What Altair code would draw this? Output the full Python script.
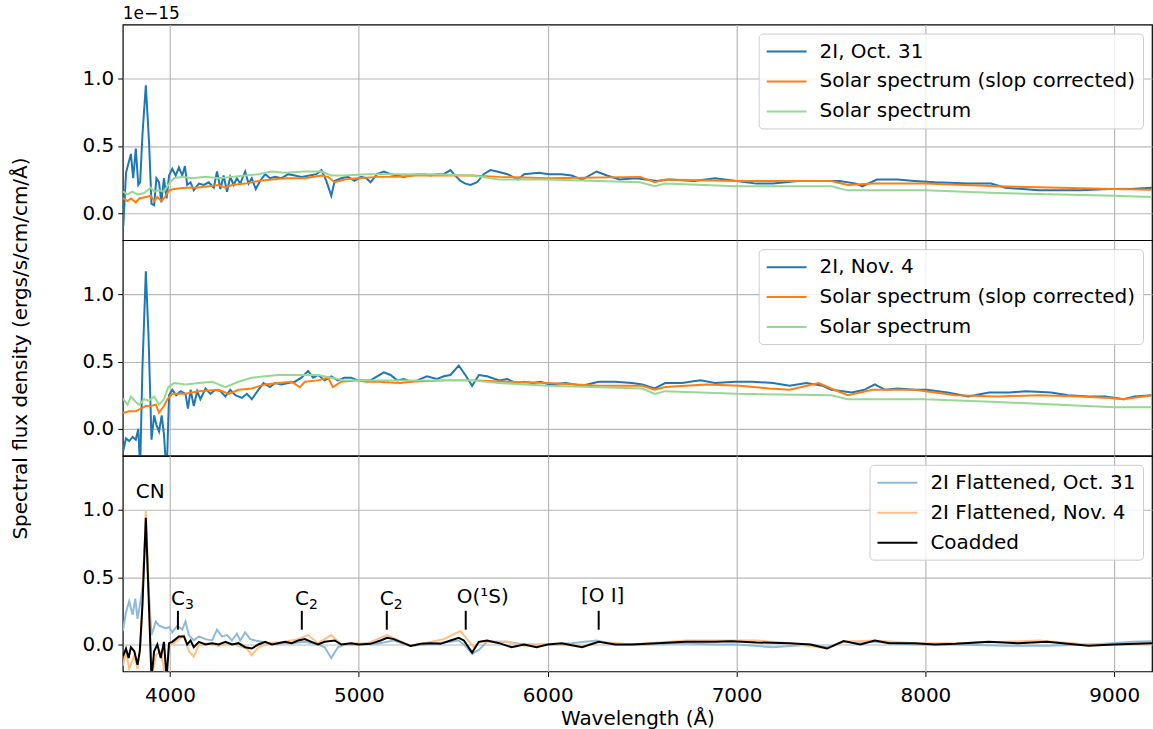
import altair as alt
import pandas as pd

X_DOMAIN = [3750, 9200]
Y_DOMAIN = [-0.2, 1.4]
X_TICKS = [4000, 5000, 6000, 7000, 8000, 9000]
Y_TICKS = [0.0, 0.5, 1.0]

P1_NAMES = ["2I, Oct. 31", "Solar spectrum (slop corrected)", "Solar spectrum"]
P2_NAMES = ["2I, Nov. 4", "Solar spectrum (slop corrected)", "Solar spectrum"]
P3_NAMES = ["2I Flattened, Oct. 31", "2I Flattened, Nov. 4", "Coadded"]
P12_COLORS = ["#1f77b4", "#ff7f0e", "#98d894"]
P3_COLORS = ["#8fbbd9", "#ffbf86", "#000000"]

# ---- Panel 1: Oct. 31 (units of 1e-15) ----
P1_OBS = [(3750, -0.11), (3753, -0.09), (3767, 0.30), (3793, 0.44), (3805, 0.26), (3819, 0.48), (3832, 0.21),
          (3842, 0.23), (3854, 0.58), (3872, 0.95), (3889, 0.53), (3902, 0.07), (3916, 0.06), (3928, 0.26),
          (3942, 0.23), (3954, 0.08), (3968, 0.26), (3982, 0.11), (3995, 0.28), (4012, 0.33), (4030, 0.28),
          (4047, 0.34), (4065, 0.28), (4079, 0.35), (4091, 0.21), (4109, 0.23), (4126, 0.17), (4153, 0.22),
          (4179, 0.21), (4205, 0.23), (4232, 0.19), (4249, 0.31), (4267, 0.18), (4284, 0.28), (4302, 0.16),
          (4319, 0.27), (4337, 0.21), (4354, 0.26), (4372, 0.22), (4398, 0.31), (4416, 0.22), (4433, 0.26),
          (4454, 0.18), (4477, 0.24), (4504, 0.29), (4530, 0.26), (4556, 0.27), (4591, 0.26), (4626, 0.29),
          (4661, 0.28), (4696, 0.27), (4740, 0.28), (4775, 0.29), (4802, 0.32), (4828, 0.24), (4854, 0.13),
          (4872, 0.24), (4907, 0.26), (4942, 0.27), (4977, 0.24), (5012, 0.27), (5040, 0.26), (5062, 0.23),
          (5097, 0.29), (5132, 0.31), (5168, 0.29), (5203, 0.28), (5238, 0.27), (5273, 0.28), (5309, 0.29),
          (5344, 0.29), (5379, 0.28), (5414, 0.29), (5450, 0.29), (5485, 0.32), (5503, 0.29), (5538, 0.24),
          (5564, 0.22), (5591, 0.21), (5626, 0.23), (5661, 0.29), (5697, 0.32), (5732, 0.31), (5787, 0.29),
          (5842, 0.25), (5875, 0.29), (5952, 0.30), (6007, 0.29), (6073, 0.29), (6127, 0.28), (6182, 0.25),
          (6259, 0.31), (6314, 0.28), (6380, 0.25), (6468, 0.26), (6578, 0.24), (6644, 0.25), (6776, 0.24),
          (6886, 0.26), (7000, 0.24), (7106, 0.22), (7193, 0.22), (7325, 0.24), (7413, 0.24), (7545, 0.24),
          (7633, 0.22), (7666, 0.20), (7743, 0.25), (7853, 0.25), (7941, 0.24), (8051, 0.23), (8227, 0.22),
          (8347, 0.22), (8424, 0.19), (8600, 0.17), (8820, 0.17), (8974, 0.18), (9084, 0.18), (9200, 0.19)]
P1_SOLCORR = [(3750, 0.11), (3753, 0.11), (3775, 0.09), (3793, 0.11), (3819, 0.08), (3837, 0.11), (3872, 0.12),
              (3898, 0.13), (3916, 0.09), (3933, 0.12), (3956, 0.09), (3977, 0.13), (3995, 0.17), (4021, 0.18),
              (4082, 0.19), (4135, 0.19), (4205, 0.20), (4258, 0.21), (4293, 0.19), (4328, 0.21), (4398, 0.22),
              (4468, 0.24), (4539, 0.25), (4609, 0.26), (4714, 0.26), (4802, 0.28), (4837, 0.27), (4872, 0.23),
              (4924, 0.25), (4995, 0.26), (5100, 0.27), (5200, 0.27), (5300, 0.28), (5400, 0.28), (5500, 0.28),
              (5600, 0.28), (5743, 0.27), (6000, 0.26), (6490, 0.27), (6567, 0.23), (6622, 0.25), (7000, 0.24),
              (7501, 0.24), (7589, 0.21), (7721, 0.22), (8000, 0.22), (8380, 0.20), (9000, 0.18), (9200, 0.175)]
P1_SOL = [(3750, 0.16), (3753, 0.16), (3775, 0.14), (3800, 0.16), (3828, 0.14), (3863, 0.15), (3898, 0.19),
          (3916, 0.16), (3942, 0.17), (3968, 0.16), (3995, 0.22), (4021, 0.26), (4065, 0.27), (4117, 0.26),
          (4188, 0.27), (4258, 0.26), (4328, 0.27), (4398, 0.28), (4468, 0.29), (4539, 0.31), (4609, 0.30),
          (4714, 0.31), (4802, 0.31), (4854, 0.28), (4924, 0.28), (5038, 0.29), (5200, 0.29), (5400, 0.29),
          (5600, 0.28), (5743, 0.25), (6000, 0.25), (6490, 0.23), (6567, 0.20), (6622, 0.22), (7000, 0.20),
          (7501, 0.20), (7589, 0.17), (8000, 0.17), (8380, 0.15), (9000, 0.13), (9200, 0.12)]

# ---- Panel 2: Nov. 4 ----
P2_OBS = [(3750, -0.16), (3753, -0.16), (3767, -0.07), (3784, -0.09), (3802, -0.06), (3819, -0.08), (3832, 0.0),
          (3842, -0.30), (3854, 0.45), (3872, 1.17), (3886, 0.70), (3902, -0.08), (3916, 0.10), (3928, 0.03),
          (3942, -0.02), (3956, 0.10), (3968, -0.04), (3982, -0.35), (3995, 0.25), (4012, 0.29), (4033, 0.25),
          (4056, 0.28), (4082, 0.26), (4095, 0.15), (4109, 0.29), (4126, 0.17), (4144, 0.28), (4161, 0.22),
          (4188, 0.30), (4214, 0.26), (4240, 0.29), (4267, 0.28), (4293, 0.24), (4319, 0.29), (4346, 0.25),
          (4381, 0.23), (4407, 0.26), (4433, 0.22), (4468, 0.29), (4495, 0.34), (4530, 0.31), (4556, 0.34),
          (4591, 0.33), (4626, 0.34), (4661, 0.35), (4696, 0.38), (4731, 0.43), (4758, 0.38), (4784, 0.40),
          (4819, 0.36), (4854, 0.39), (4889, 0.36), (4924, 0.38), (4959, 0.38), (4995, 0.36), (5038, 0.36),
          (5062, 0.36), (5097, 0.39), (5132, 0.42), (5168, 0.40), (5203, 0.36), (5238, 0.37), (5273, 0.35),
          (5309, 0.36), (5361, 0.39), (5414, 0.37), (5450, 0.39), (5485, 0.40), (5529, 0.47), (5564, 0.40),
          (5600, 0.32), (5635, 0.40), (5679, 0.39), (5743, 0.36), (5787, 0.37), (5831, 0.34), (5875, 0.35),
          (5919, 0.34), (5962, 0.35), (6007, 0.33), (6095, 0.34), (6182, 0.32), (6270, 0.35), (6358, 0.35),
          (6446, 0.34), (6501, 0.33), (6567, 0.30), (6622, 0.34), (6710, 0.34), (6809, 0.36), (6886, 0.34),
          (6996, 0.35), (7084, 0.35), (7193, 0.34), (7281, 0.32), (7369, 0.34), (7457, 0.32), (7501, 0.29),
          (7611, 0.27), (7677, 0.29), (7732, 0.33), (7787, 0.29), (7853, 0.30), (7941, 0.29), (8007, 0.29),
          (8117, 0.27), (8227, 0.24), (8337, 0.27), (8446, 0.27), (8534, 0.28), (8666, 0.27), (8754, 0.25),
          (8864, 0.24), (8952, 0.24), (9051, 0.22), (9106, 0.24), (9200, 0.25)]
P2_SOLCORR = [(3750, 0.12), (3753, 0.12), (3784, 0.13), (3819, 0.13), (3845, 0.15), (3872, 0.17), (3898, 0.17),
              (3925, 0.18), (3942, 0.12), (3968, 0.17), (3986, 0.22), (4012, 0.26), (4082, 0.26), (4153, 0.28),
              (4258, 0.29), (4311, 0.26), (4363, 0.29), (4433, 0.30), (4504, 0.33), (4574, 0.34), (4644, 0.35),
              (4688, 0.31), (4714, 0.35), (4784, 0.36), (4837, 0.38), (4863, 0.31), (4907, 0.35), (4995, 0.36),
              (5038, 0.35), (5097, 0.35), (5220, 0.34), (5274, 0.35), (5450, 0.36), (5626, 0.36), (5785, 0.35),
              (6000, 0.34), (6270, 0.32), (6501, 0.32), (6567, 0.29), (6622, 0.31), (6842, 0.33), (7018, 0.32),
              (7172, 0.30), (7281, 0.29), (7435, 0.34), (7501, 0.30), (7589, 0.25), (7721, 0.29), (7941, 0.29),
              (8161, 0.25), (8380, 0.24), (8600, 0.25), (8820, 0.24), (8974, 0.23), (9051, 0.22), (9200, 0.25)]
P2_SOL = [(3750, 0.22), (3753, 0.22), (3775, 0.18), (3793, 0.24), (3819, 0.20), (3837, 0.18), (3863, 0.22),
          (3889, 0.21), (3916, 0.24), (3942, 0.18), (3968, 0.22), (3991, 0.31), (4021, 0.34), (4082, 0.33),
          (4153, 0.34), (4223, 0.35), (4293, 0.31), (4363, 0.35), (4433, 0.38), (4504, 0.39), (4574, 0.40),
          (4679, 0.40), (4784, 0.40), (4854, 0.38), (4924, 0.36), (5038, 0.36), (5300, 0.36), (5600, 0.36),
          (5743, 0.34), (6000, 0.32), (6501, 0.30), (6567, 0.26), (6622, 0.28), (7000, 0.26), (7501, 0.25),
          (7589, 0.22), (8000, 0.22), (8380, 0.20), (9000, 0.16), (9200, 0.16)]

# ---- Panel 3: flattened spectra ----
P3_OCT = [(3750, 0.10), (3753, 0.12), (3767, 0.24), (3784, 0.32), (3802, 0.22), (3816, 0.34), (3828, 0.19),
          (3840, 0.29), (3854, 0.42), (3872, 0.89), (3886, 0.42), (3902, 0.07), (3925, 0.17), (3942, 0.14),
          (3960, 0.13), (3977, 0.12), (3995, 0.13), (4012, 0.09), (4039, 0.14), (4065, 0.11), (4082, 0.17),
          (4100, 0.07), (4126, 0.03), (4153, 0.06), (4188, 0.04), (4223, 0.03), (4249, 0.11), (4275, 0.06),
          (4302, 0.07), (4328, 0.03), (4354, 0.08), (4372, 0.03), (4398, 0.09), (4425, 0.04), (4451, 0.03),
          (4486, 0.02), (4521, 0.01), (4574, 0.01), (4644, 0.01), (4714, 0.02), (4784, 0.0), (4819, -0.02),
          (4854, -0.10), (4889, -0.02), (4924, 0.0), (4995, 0.0), (5038, 0.01), (5097, 0.005), (5185, 0.03),
          (5274, -0.01), (5379, 0.005), (5485, 0.02), (5529, 0.03), (5564, -0.01), (5600, -0.07), (5635, -0.04),
          (5679, 0.02), (5785, 0.02), (5875, 0.0), (6000, 0.0), (6127, 0.01), (6259, 0.03), (6358, 0.0),
          (6490, 0.0), (6700, 0.01), (6886, 0.0), (7000, 0.0), (7193, -0.02), (7391, 0.0), (7479, -0.02),
          (7567, 0.02), (7732, 0.02), (7941, 0.0), (8161, 0.0), (8424, -0.01), (8644, -0.01), (8864, 0.0),
          (8996, 0.01), (9100, 0.02), (9200, 0.025)]
P3_NOV = [(3750, -0.15), (3753, -0.15), (3767, -0.05), (3784, -0.18), (3811, -0.08), (3828, -0.18), (3845, 0.0),
          (3872, 0.99), (3889, 0.37), (3902, -0.25), (3925, -0.08), (3951, -0.05), (3977, -0.25), (3995, 0.0),
          (4021, 0.01), (4047, 0.04), (4074, 0.07), (4100, -0.05), (4126, -0.09), (4153, 0.0), (4205, 0.01),
          (4258, -0.01), (4311, 0.01), (4363, -0.01), (4407, -0.03), (4433, -0.08), (4468, -0.02), (4521, 0.01),
          (4609, 0.02), (4679, 0.04), (4731, 0.07), (4784, 0.01), (4854, 0.07), (4907, 0.0), (4995, 0.01),
          (5038, 0.005), (5150, 0.07), (5274, -0.01), (5450, 0.04), (5538, 0.10), (5573, 0.04), (5608, -0.02),
          (5644, 0.02), (5785, 0.02), (5875, -0.01), (6000, 0.0), (6182, -0.01), (6270, 0.02), (6446, 0.0),
          (6732, 0.03), (6974, 0.03), (7106, 0.03), (7281, 0.01), (7479, -0.03), (7567, 0.02), (7732, 0.03),
          (7941, 0.01), (8161, 0.01), (8424, 0.02), (8600, 0.03), (8864, 0.0), (9000, 0.0), (9200, 0.01)]
P3_COADD = [(3750, -0.08), (3753, -0.08), (3767, -0.03), (3781, -0.10), (3793, -0.02), (3811, -0.05),
            (3828, -0.15), (3840, -0.05), (3854, 0.29), (3872, 0.94), (3886, 0.39), (3902, -0.25), (3916, -0.05),
            (3933, 0.0), (3951, -0.10), (3968, 0.02), (3982, -0.25), (3995, 0.01), (4012, 0.02), (4030, 0.04),
            (4047, 0.06), (4074, 0.06), (4091, 0.0), (4109, 0.03), (4126, -0.02), (4153, 0.02), (4188, 0.0),
            (4223, 0.01), (4258, 0.0), (4293, 0.02), (4328, 0.0), (4363, 0.01), (4398, -0.02), (4433, -0.03),
            (4468, 0.0), (4504, 0.02), (4539, 0.0), (4574, 0.01), (4609, 0.02), (4644, 0.01), (4679, 0.03),
            (4714, 0.04), (4749, 0.02), (4784, 0.0), (4819, 0.02), (4872, 0.03), (4907, 0.0), (4959, 0.01),
            (5000, 0.0), (5062, 0.005), (5115, 0.03), (5150, 0.05), (5185, 0.04), (5221, 0.02), (5274, -0.01),
            (5327, 0.005), (5379, 0.01), (5432, 0.005), (5485, 0.03), (5529, 0.05), (5556, 0.03), (5600, -0.06),
            (5635, 0.02), (5679, 0.03), (5743, 0.01), (5809, -0.02), (5875, 0.0), (5941, -0.02), (6000, 0.0),
            (6073, 0.01), (6182, -0.02), (6270, 0.02), (6358, 0.0), (6446, 0.0), (6578, 0.01), (6732, 0.02),
            (6886, 0.02), (6974, 0.025), (7106, 0.015), (7281, 0.01), (7391, 0.0), (7479, -0.03), (7567, 0.025),
            (7655, 0.0), (7732, 0.03), (7809, 0.01), (7941, 0.01), (8051, 0.0), (8161, 0.005), (8336, 0.02),
            (8490, 0.01), (8644, 0.02), (8864, -0.01), (8996, 0.0), (9200, 0.01)]

# ---- Emission feature annotations (panel 3) ----
LABELS = ["CN", "O(¹S)", "[O I]"]
LABEL_WL = [3895, 5656, 6291]
LABEL_Y = [1.13, 0.35, 0.36]
MOL_BASE = ["C", "C", "C"]
MOL_SUB = ["3", "2", "2"]
MOL_WL = [4063, 4720, 5169]
MOL_Y = [0.34, 0.34, 0.34]
TICK_WL = [4042, 4698, 5148, 5566, 6270]
TICK_LOW = [0.11, 0.11, 0.11, 0.11, 0.11]
TICK_HIGH = [0.25, 0.25, 0.25, 0.25, 0.25]

FONT = "DejaVu Sans"
FS_TICK = 20
FS_TITLE = 20
FS_LEG = 20
FS_ANN = 20

XS = alt.Scale(domain=X_DOMAIN, nice=False, zero=False)
YS = alt.Scale(domain=Y_DOMAIN, nice=False, zero=False)


def to_df(pairs, name):
    return pd.DataFrame({"wl": [p[0] for p in pairs], "flux": [p[1] for p in pairs], "series": name})


def x_enc(bottom):
    if bottom:
        ax = alt.Axis(values=X_TICKS, format="d", tickSize=5, labelPadding=9, title="Wavelength (Å)",
                      titlePadding=3, domain=False, grid=True)
    else:
        ax = alt.Axis(values=X_TICKS, labels=False, ticks=False, domain=False, title=None, grid=True)
    return alt.X("wl:Q", scale=XS, axis=ax)


def y_enc(title=None):
    kw = dict(values=Y_TICKS, format=".1f", tickSize=5, labelPadding=4, domain=False, grid=True)
    if title:
        kw.update(title=title, titlePadding=52)
    else:
        kw.update(title=None)
    return alt.Y("flux:Q", scale=YS, axis=alt.Axis(**kw))


def legend(names, colors):
    return alt.Color("series:N", scale=alt.Scale(domain=names, range=colors),
                     legend=alt.Legend(orient="top-right", title=None, symbolType="M-1,0H3", symbolSize=400,
                                       symbolStrokeWidth=2, labelFontSize=FS_LEG, labelFont=FONT,
                                       labelColor="black", labelLimit=0, labelOffset=32,
                                       strokeColor="#cccccc", fillColor="rgba(255,255,255,0.8)",
                                       cornerRadius=4, padding=7, offset=9, rowPadding=9))


def panel(series, names, colors, bottom=False, ytitle=None):
    layers = []
    for pairs, name in zip(series, names):
        layers.append(
            alt.Chart(to_df(pairs, name)).mark_line(strokeWidth=2, clip=True).encode(
                x=x_enc(bottom), y=y_enc(ytitle), color=legend(names, colors)
            )
        )
    return layers


p1 = alt.layer(*panel([P1_OBS, P1_SOLCORR, P1_SOL], P1_NAMES, P12_COLORS)).properties(
    width=1031, height=216,
    title=alt.TitleParams("1e−15", anchor="start", frame="group", fontSize=17, fontWeight="normal",
                          font=FONT, color="black", offset=2))

p2 = alt.layer(*panel([P2_OBS, P2_SOLCORR, P2_SOL], P2_NAMES, P12_COLORS,
                      ytitle="Spectral flux density (ergs/s/cm/cm/Å)")).properties(width=1031, height=216)

ann_text = pd.DataFrame({"label": LABELS, "wl": LABEL_WL, "y": LABEL_Y})
ann_mol = pd.DataFrame({"base": MOL_BASE, "sub": MOL_SUB, "wl": MOL_WL, "y": MOL_Y})
ann_tick = pd.DataFrame({"wl": TICK_WL, "lo": TICK_LOW, "hi": TICK_HIGH})

texts = alt.Chart(ann_text).mark_text(fontSize=FS_ANN, font=FONT, color="black", baseline="middle",
                                      align="center").encode(
    x=alt.X("wl:Q", scale=XS), y=alt.Y("y:Q", scale=YS), text="label:N")
mol_base = alt.Chart(ann_mol).mark_text(fontSize=FS_ANN, font=FONT, color="black", baseline="middle",
                                        align="right", dx=3).encode(
    x=alt.X("wl:Q", scale=XS), y=alt.Y("y:Q", scale=YS), text="base:N")
mol_sub = alt.Chart(ann_mol).mark_text(fontSize=14, font=FONT, color="black", baseline="middle",
                                       align="left", dx=3, dy=6).encode(
    x=alt.X("wl:Q", scale=XS), y=alt.Y("y:Q", scale=YS), text="sub:N")
ticks = alt.Chart(ann_tick).mark_rule(color="black", strokeWidth=2).encode(
    x=alt.X("wl:Q", scale=XS), y=alt.Y("lo:Q", scale=YS), y2="hi:Q")

p3 = alt.layer(*panel([P3_OCT, P3_NOV, P3_COADD], P3_NAMES, P3_COLORS, bottom=True),
               ticks, texts, mol_base, mol_sub).properties(width=1031, height=216)

chart = alt.vconcat(p1, p2, p3, spacing=0, bounds="flush").resolve_scale(color="independent").properties(
    padding={"left": 9, "top": 3, "right": 0, "bottom": 0}
).configure(font=FONT).configure_view(stroke="black", strokeWidth=1.2).configure_axis(
    gridColor="#b8b8b8", gridWidth=1.2, labelColor="black", tickColor="black", titleColor="black",
    labelFont=FONT, titleFont=FONT, labelFontSize=FS_TICK, titleFontSize=FS_TITLE, titleFontWeight="normal"
)

chart.save("out.html", embed_options={"renderer": "svg", "actions": False})
